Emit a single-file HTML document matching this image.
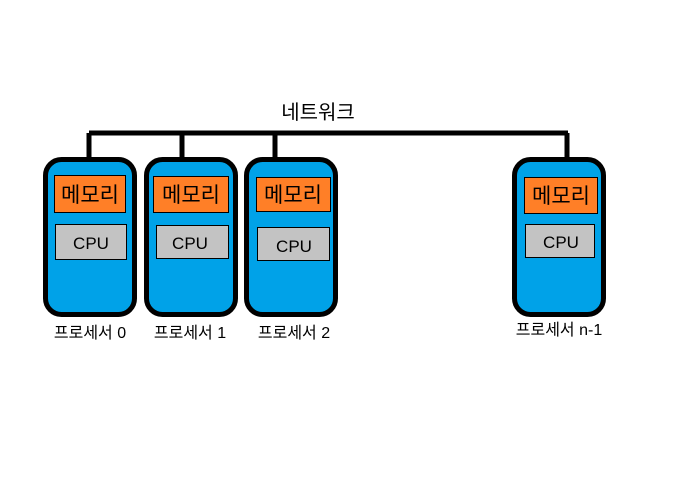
<!DOCTYPE html>
<html><head><meta charset="utf-8"><style>
html,body{margin:0;padding:0;background:#fff;width:676px;height:504px;overflow:hidden}
svg{display:block}
text{font-family:"Liberation Sans","Noto Sans CJK KR","NanumGothic",sans-serif;fill:#000}
</style></head><body>
<svg width="676" height="504" viewBox="0 0 676 504" xmlns="http://www.w3.org/2000/svg">
<text x="318" y="119" font-size="20" text-anchor="middle">네트워크</text>
<g stroke="#000" stroke-width="5" fill="none">
<path d="M89 133 H568"/>
<path d="M89 133 V159 M182 133 V159 M275 133 V159 M567 133 V159"/>
</g>
<g stroke="#000" stroke-width="5" fill="#00a2e8">
<rect x="45.5" y="159.5" width="89" height="155" rx="16"/>
<rect x="146.5" y="159.5" width="89" height="155" rx="16"/>
<rect x="246.5" y="159.5" width="89" height="155" rx="16"/>
<rect x="514.5" y="159.5" width="89" height="155" rx="16"/>
</g>
<g stroke="#000" stroke-width="1" fill="#ff7f27">
<rect x="54.5" y="175.5" width="71" height="37"/>
<rect x="153.5" y="176.5" width="75" height="36"/>
<rect x="256.5" y="177.5" width="74" height="34"/>
<rect x="524.5" y="177.5" width="73" height="36"/>
</g>
<g stroke="#000" stroke-width="1" fill="#c3c3c3">
<rect x="55.5" y="224.5" width="71" height="35"/>
<rect x="156.5" y="225.5" width="72" height="33"/>
<rect x="257.5" y="227.5" width="72" height="33"/>
<rect x="525.5" y="224.5" width="69" height="33"/>
</g>
<g font-size="21" text-anchor="middle">
<text x="90" y="202">메모리</text>
<text x="191" y="202">메모리</text>
<text x="293" y="202">메모리</text>
<text x="561" y="203">메모리</text>
</g>
<g font-size="17" text-anchor="middle">
<text x="91" y="249">CPU</text>
<text x="190" y="249">CPU</text>
<text x="294" y="252">CPU</text>
<text x="561" y="248">CPU</text>
</g>
<g font-size="16" text-anchor="middle">
<text x="90" y="338">프로세서 0</text>
<text x="190" y="338">프로세서 1</text>
<text x="294" y="338">프로세서 2</text>
<text x="559" y="335">프로세서 n-1</text>
</g>
</svg>
</body></html>
